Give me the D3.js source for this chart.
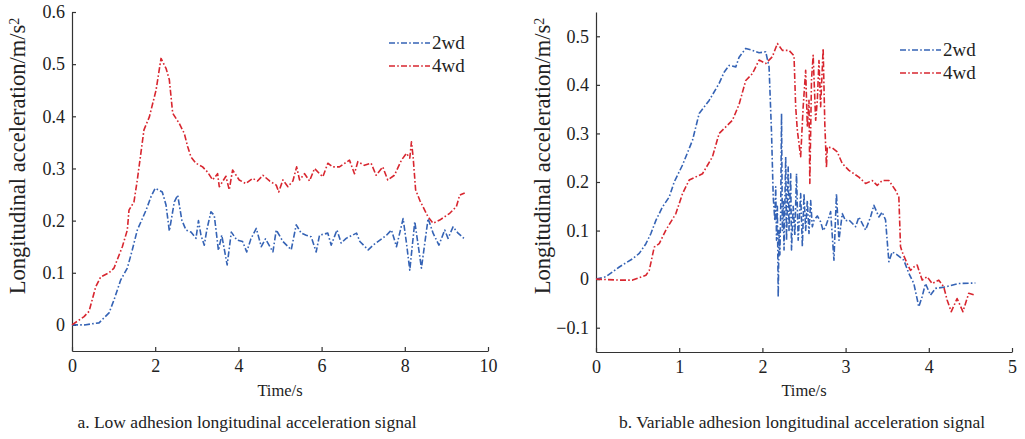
<!DOCTYPE html>
<html><head><meta charset="utf-8">
<script src="https://cdn.jsdelivr.net/npm/d3@7"></script>
<style>
body{margin:0;background:#fff;}
svg text{font-family:"Liberation Serif","Times New Roman",serif;}
</style></head>
<body><svg id="c" width="1025" height="439"></svg>
<script>
// ---- data: chart a (low adhesion) ----
const lowTime2wd = [0,0.3,0.65,0.89,1.01,1.17,1.33,1.45,1.57,1.78,1.9,2.0,2.17,2.26,2.34,2.46,2.54,2.64,2.74,2.86,2.98,3.04,3.1,3.18,3.24,3.34,3.42,3.52,3.6,3.73,3.83,3.96,4.1,4.2,4.3,4.43,4.55,4.65,4.83,4.91,5.07,5.27,5.39,5.51,5.63,5.75,5.87,5.95,6.15,6.23,6.37,6.47,6.59,6.84,6.92,7.12,7.24,7.56,7.68,7.8,7.96,8.04,8.12,8.24,8.4,8.56,8.68,8.82,8.96,9.04,9.16,9.28,9.42];
const lowAcc2wd  = [0,0,0.004,0.023,0.048,0.086,0.109,0.144,0.182,0.22,0.246,0.262,0.255,0.23,0.18,0.236,0.249,0.201,0.182,0.178,0.166,0.2,0.172,0.153,0.182,0.217,0.21,0.143,0.172,0.115,0.178,0.163,0.16,0.14,0.165,0.185,0.15,0.165,0.14,0.182,0.16,0.144,0.192,0.176,0.172,0.169,0.14,0.172,0.176,0.153,0.182,0.157,0.166,0.176,0.16,0.144,0.153,0.172,0.182,0.15,0.204,0.157,0.105,0.198,0.109,0.204,0.176,0.153,0.182,0.166,0.188,0.176,0.166];
const lowTime4wd = [0,0.29,0.41,0.57,0.69,0.89,1.01,1.21,1.33,1.37,1.49,1.57,1.73,1.86,2.02,2.14,2.26,2.34,2.42,2.58,2.7,2.78,2.86,2.98,3.14,3.26,3.38,3.5,3.54,3.7,3.78,3.86,4.02,4.18,4.34,4.46,4.59,4.75,4.91,4.97,5.07,5.19,5.31,5.4,5.47,5.59,5.71,5.83,5.95,6.03,6.15,6.27,6.43,6.67,6.79,6.87,7.03,7.19,7.31,7.47,7.59,7.75,7.92,8.04,8.12,8.16,8.2,8.26,8.36,8.56,8.68,8.84,9.08,9.24,9.32,9.44];
const lowAcc4wd  = [0,0.016,0.026,0.073,0.092,0.1,0.109,0.15,0.182,0.22,0.236,0.278,0.374,0.399,0.45,0.511,0.492,0.47,0.406,0.386,0.367,0.342,0.322,0.31,0.303,0.293,0.278,0.29,0.265,0.285,0.259,0.297,0.278,0.271,0.281,0.276,0.287,0.276,0.268,0.255,0.278,0.265,0.276,0.303,0.278,0.29,0.276,0.3,0.29,0.284,0.31,0.303,0.303,0.316,0.29,0.313,0.306,0.31,0.287,0.303,0.278,0.287,0.316,0.329,0.32,0.351,0.322,0.259,0.239,0.207,0.195,0.201,0.214,0.227,0.249,0.253];

// ---- data: chart b (variable adhesion) ----
const varTime2wd = [0,0.12,0.28,0.44,0.52,0.6,0.66,0.72,0.8,0.88,0.94,1.04,1.16,1.24,1.36,1.48,1.54,1.6,1.68,1.72,1.8,1.88,1.96,2.04,2.08,2.11,2.13,2.15,2.16,2.17,2.18,2.19,2.2,2.21,2.22,2.23,2.24,2.25,2.26,2.28,2.29,2.31,2.32,2.34,2.35,2.37,2.39,2.41,2.43,2.46,2.48,2.5,2.52,2.54,2.56,2.58,2.6,2.62,2.66,2.7,2.73,2.76,2.8,2.82,2.86,2.89,2.92,2.96,3.0,3.04,3.12,3.16,3.24,3.3,3.34,3.4,3.44,3.48,3.52,3.56,3.62,3.7,3.76,3.82,3.88,3.92,3.96,4.02,4.08,4.2,4.36,4.56];
const varAcc2wd  = [0,0.005,0.025,0.042,0.053,0.073,0.094,0.121,0.149,0.169,0.2,0.235,0.286,0.341,0.368,0.403,0.426,0.44,0.437,0.457,0.475,0.471,0.466,0.468,0.437,0.3,0.17,0.12,0.19,0.08,0.15,-0.037,0.1,0.05,0.14,0.341,0.1,0.16,0.06,0.252,0.08,0.231,0.1,0.217,0.06,0.15,0.09,0.217,0.08,0.176,0.067,0.176,0.1,0.162,0.094,0.162,0.108,0.121,0.13,0.118,0.1,0.108,0.128,0.139,0.039,0.176,0.08,0.135,0.12,0.122,0.108,0.128,0.101,0.128,0.152,0.128,0.138,0.122,0.036,0.056,0.05,0.039,0.012,-0.009,-0.057,-0.036,-0.009,-0.033,-0.019,-0.016,-0.009,-0.008];
const varTime4wd = [0,0.28,0.44,0.6,0.64,0.7,0.76,0.84,0.96,1.04,1.12,1.28,1.4,1.48,1.64,1.72,1.8,1.88,1.96,2.04,2.12,2.18,2.24,2.32,2.38,2.4,2.42,2.46,2.49,2.52,2.54,2.56,2.57,2.59,2.61,2.64,2.66,2.68,2.7,2.73,2.75,2.77,2.78,2.84,2.9,2.96,3.04,3.16,3.24,3.32,3.38,3.44,3.52,3.6,3.64,3.66,3.68,3.74,3.78,3.82,3.86,3.92,3.98,4.04,4.12,4.18,4.22,4.27,4.34,4.41,4.48,4.56];
const varAcc4wd  = [0,-0.002,-0.002,0.008,0.018,0.066,0.073,0.101,0.135,0.176,0.204,0.217,0.252,0.3,0.327,0.36,0.409,0.423,0.451,0.444,0.458,0.485,0.471,0.471,0.46,0.355,0.306,0.252,0.355,0.43,0.313,0.368,0.197,0.41,0.461,0.327,0.368,0.45,0.355,0.475,0.32,0.23,0.272,0.27,0.262,0.238,0.224,0.21,0.197,0.203,0.193,0.203,0.203,0.183,0.169,0.067,0.056,0.032,0.018,0.025,0.029,-0.002,0.005,-0.009,-0.002,-0.016,-0.043,-0.067,-0.04,-0.067,-0.029,-0.033];

// ---- ticks / labels ----
const lowXTicks = [0,2,4,6,8,10];
const lowYTicks = [0,0.1,0.2,0.3,0.4,0.5,0.6];
const lowYLabels = ["0","0.1","0.2","0.3","0.4","0.5","0.6"];
const varXTicks = [0,1,2,3,4,5];
const varYTicks = [-0.1,0,0.1,0.2,0.3,0.4,0.5];
const varYLabels = ["\u22120.1","0","0.1","0.2","0.3","0.4","0.5"];
const seriesNames = ["2wd","4wd"];
const seriesColors = ["#3563b5","#d8262f"];
const captions = ["a. Low adhesion longitudinal acceleration signal","b. Variable adhesion longitudinal acceleration signal"];

const svg = d3.select("#c");
const DASH = "6,2.2,1.6,2.2";
const FONT = "'Liberation Serif', 'Times New Roman', serif";

function panel(cfg){
  const x = d3.scaleLinear().domain(cfg.xDomain).range(cfg.xRange);
  const y = d3.scaleLinear().domain(cfg.yDomain).range(cfg.yRange);
  const g = svg.append("g");
  const xa = g.append("g").attr("transform",`translate(0,${cfg.yRange[0]})`)
    .call(d3.axisBottom(x).tickValues(cfg.xTicks).tickSize(-4).tickSizeOuter(0).tickPadding(8).tickFormat(d3.format("d")));
  const ya = g.append("g").attr("transform",`translate(${cfg.xRange[0]},0)`)
    .call(d3.axisLeft(y).tickValues(cfg.yTicks).tickSize(-4).tickSizeOuter(0).tickPadding(7)
      .tickFormat((d,i)=>cfg.yLabels[i]));
  [xa,ya].forEach(a=>{
    a.attr("font-family",null).attr("font-size",null);
    a.selectAll("path,line").attr("stroke","#333").attr("stroke-width",1.2);
    a.selectAll("text").attr("fill","#222").style("font-size","18px").style("font-family",FONT);
  });
  const line = d3.line().x(d=>x(d[0])).y(d=>y(d[1]));
  cfg.series.forEach((s,i)=>{
    g.append("path").datum(d3.zip(s.t,s.v)).attr("d",line)
      .attr("fill","none").attr("stroke",seriesColors[i]).attr("stroke-width",1.6)
      .attr("stroke-dasharray",DASH).attr("stroke-linejoin","round");
  });
  // legend
  seriesNames.forEach((n,i)=>{
    const ly = cfg.legY + i*23;
    g.append("line").attr("x1",cfg.legX).attr("x2",cfg.legX+41).attr("y1",ly).attr("y2",ly)
      .attr("stroke",seriesColors[i]).attr("stroke-width",1.6).attr("stroke-dasharray",DASH);
    g.append("text").attr("x",cfg.legX+43).attr("y",ly+6).text(n)
      .attr("fill","#222").style("font-size","19px").style("font-family",FONT);
  });
  // axis titles
  g.append("text").attr("x",(cfg.xRange[0]+cfg.xRange[1])/2).attr("y",396)
    .attr("text-anchor","middle").attr("fill","#222").style("font-size","16.5px").style("font-family",FONT).text("Time/s");
  const yt = g.append("text").attr("transform",`translate(${cfg.yTitleX},156) rotate(-90)`)
    .attr("text-anchor","middle").attr("fill","#222").style("font-size","22.5px").style("font-family",FONT);
  yt.append("tspan").text("Longitudinal acceleration/m/s");
  yt.append("tspan").attr("dy","-0.45em").style("font-size","14px").text("2");
  g.append("text").attr("x",cfg.capX).attr("y",428).attr("text-anchor","middle")
    .attr("fill","#222").style("font-size","17.5px").style("font-family",FONT).text(cfg.caption);
}

panel({xDomain:[0,10],xRange:[72,488],yDomain:[-0.05,0.6],yRange:[351,12],
  xTicks:lowXTicks,yTicks:lowYTicks,yLabels:lowYLabels,
  series:[{t:lowTime2wd,v:lowAcc2wd},{t:lowTime4wd,v:lowAcc4wd}],
  legX:389,legY:43,yTitleX:25,capX:247,caption:captions[0]});
panel({xDomain:[0,5],xRange:[596,1012],yDomain:[-0.15,0.55],yRange:[352,12],
  xTicks:varXTicks,yTicks:varYTicks,yLabels:varYLabels,
  series:[{t:varTime2wd,v:varAcc2wd},{t:varTime4wd,v:varAcc4wd}],
  legX:900,legY:50,yTitleX:550,capX:802,caption:captions[1]});
</script></body></html>
